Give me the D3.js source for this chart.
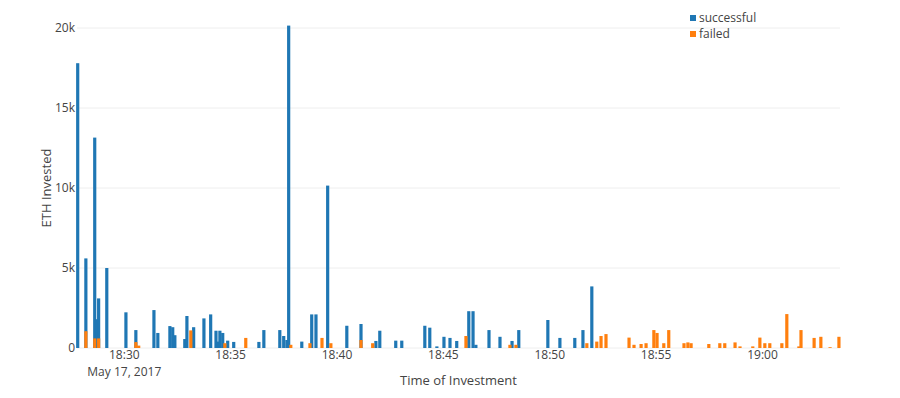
<!DOCTYPE html>
<html>
<head>
<meta charset="utf-8">
<script src="https://cdn.jsdelivr.net/npm/d3@7"></script>
<style>
  body { margin: 0; background: #fff; }
  text { font-family: "Open Sans", verdana, arial, sans-serif; fill: #444; }
</style>
</head>
<body>
<div id="chart"></div>
<script>
// successful investments: time of day, ETH
const successTimes = ['18:27:50', '18:28:13', '18:28:38', '18:28:44', '18:28:49', '18:29:12', '18:30:06', '18:30:34',
    '18:31:25', '18:31:36', '18:32:10', '18:32:18', '18:32:24', '18:32:52', '18:32:58', '18:33:17', '18:33:46',
    '18:34:05', '18:34:20', '18:34:25', '18:34:31', '18:34:39', '18:34:53', '18:35:10', '18:36:21', '18:36:35',
    '18:37:20', '18:37:31', '18:37:40', '18:37:45', '18:38:22', '18:38:50', '18:39:02', '18:39:35', '18:40:29',
    '18:41:09', '18:41:51', '18:42:02', '18:42:47', '18:43:04', '18:44:09', '18:44:23', '18:44:43', '18:45:03',
    '18:45:20', '18:45:39', '18:46:13', '18:46:25', '18:46:33', '18:47:10', '18:47:41', '18:48:15', '18:48:34',
    '18:49:56', '18:50:30', '18:51:12', '18:51:35', '18:52:00'];
const successEth = [17800, 5600, 13150, 1800, 3100, 5000, 2230, 1120,
    2370, 940, 1370, 1300, 800, 560, 2000, 1300, 1850,
    2100, 1080, 400, 1080, 940, 460, 380, 380, 1120,
    1120, 750, 500, 20150, 400, 2100, 2100, 10150, 1390,
    1500, 440, 1080, 460, 460, 1390, 1270, 100, 700,
    630, 440, 2300, 2300, 200, 1120, 700, 440, 1120,
    1750, 630, 630, 1120, 3850];

// failed investments
const failedTimes = ['18:28:13', '18:28:38', '18:28:49', '18:30:34', '18:30:42', '18:33:09', '18:34:45', '18:35:44',
    '18:37:51', '18:38:45', '18:39:19', '18:39:44', '18:41:09', '18:41:42', '18:46:05', '18:48:09', '18:48:26',
    '18:51:46', '18:52:14', '18:52:26', '18:52:40', '18:53:45', '18:53:59', '18:54:19', '18:54:33', '18:54:55',
    '18:55:04', '18:55:23', '18:55:37', '18:56:20', '18:56:31', '18:56:40', '18:57:30', '18:58:01', '18:58:15',
    '18:58:44', '18:58:58', '18:59:34', '18:59:54', '19:00:08', '19:00:22', '19:00:56', '19:01:10', '19:01:44',
    '19:01:50', '19:02:27', '19:02:46', '19:03:12', '19:03:37'];
const failedEth = [1050, 600, 600, 370, 150, 1100, 300, 630,
    200, 300, 630, 300, 500, 300, 750, 200, 200,
    300, 400, 750, 870, 650, 200, 250, 300, 1120,
    940, 300, 1120, 300, 350, 300, 250, 300, 300,
    350, 100, 100, 650, 300, 300, 300, 2120, 100,
    1120, 630, 700, 50, 700];

const yTicks = [0, 5000, 10000, 15000, 20000];
const seriesNames = ['successful', 'failed'];
const seriesColors = ['#1f77b4', '#ff7f0e'];

const width = 900, height = 398;
const margin = { left: 77, right: 60, top: 28, bottom: 50 };
const parse = s => d3.timeParse('%Y-%m-%d %H:%M:%S')('2017-05-17 ' + s);

const svg = d3.select('#chart').append('svg')
    .attr('width', width)
    .attr('height', height);

const x = d3.scaleTime()
    .domain([parse('18:27:48'), parse('19:03:40')])
    .range([margin.left, width - margin.right]);

const y = d3.scaleLinear()
    .domain([0, 20000])
    .range([height - margin.bottom, margin.top]);

// grid
svg.append('g')
    .selectAll('line')
    .data(yTicks)
    .enter().append('line')
    .attr('x1', margin.left)
    .attr('x2', width - margin.right)
    .attr('y1', d => y(d))
    .attr('y2', d => y(d))
    .attr('stroke', '#eee')
    .attr('stroke-width', 1);

// y axis
const yAxis = svg.append('g')
    .attr('transform', 'translate(' + (margin.left - 2) + ',0)')
    .call(d3.axisLeft(y).tickValues(yTicks).tickSize(0).tickPadding(0)
        .tickFormat(d => d === 0 ? '0' : (d / 1000) + 'k'));
yAxis.select('.domain').remove();
yAxis.selectAll('text').style('font-size', '12px').attr('fill', '#444');

// x axis, first tick gets the date on a second line
const xTicks = d3.timeMinute.every(5).range(parse('18:30:00'), parse('19:03:40'));
const fmt = d3.timeFormat('%H:%M');
const xAxis = svg.append('g')
    .attr('transform', 'translate(0,' + (height - margin.bottom) + ')')
    .call(d3.axisBottom(x).tickValues(xTicks).tickSize(0).tickPadding(0)
        .tickFormat(''));
xAxis.select('.domain').remove();
xAxis.selectAll('.tick text')
    .style('font-size', '12px')
    .attr('fill', '#444')
    .attr('dy', null)
    .attr('y', 11)
    .each(function (d, i) {
        const t = d3.select(this).text(null);
        t.append('tspan').attr('x', 0).text(fmt(d));
        if (i === 0) t.append('tspan').attr('x', 0).attr('dy', 16.5).text('May 17, 2017');
    });

// bars
const halfW = 4500; // ms
function drawBars(times, values, color) {
    svg.append('g')
        .selectAll('rect')
        .data(times.map((t, i) => ({ t: parse(t), v: values[i] })))
        .enter().append('rect')
        .attr('x', d => x(new Date(+d.t - halfW)))
        .attr('width', d => x(new Date(+d.t + halfW)) - x(new Date(+d.t - halfW)))
        .attr('y', d => y(d.v))
        .attr('height', d => y(0) - y(d.v))
        .attr('fill', color);
}
drawBars(successTimes, successEth, seriesColors[0]);
drawBars(failedTimes, failedEth, seriesColors[1]);

// titles
svg.append('text')
    .attr('x', (margin.left + width - margin.right) / 2)
    .attr('y', 385)
    .attr('text-anchor', 'middle')
    .style('font-size', '13px')
    .text('Time of Investment');

svg.append('text')
    .attr('transform', 'translate(51,' + ((margin.top + height - margin.bottom) / 2) + ') rotate(-90)')
    .attr('text-anchor', 'middle')
    .style('font-size', '13px')
    .text('ETH Invested');

// legend
const legend = svg.append('g')
    .attr('transform', 'translate(690,14)')
    .selectAll('g')
    .data(seriesNames)
    .enter().append('g')
    .attr('transform', (d, i) => 'translate(0,' + i * 16 + ')');
legend.append('rect')
    .attr('width', 6)
    .attr('height', 6)
    .attr('y', 1)
    .attr('fill', (d, i) => seriesColors[i]);
legend.append('text')
    .attr('x', 9)
    .attr('y', 8)
    .style('font-size', '12px')
    .text(d => d);
</script>
</body>
</html>
